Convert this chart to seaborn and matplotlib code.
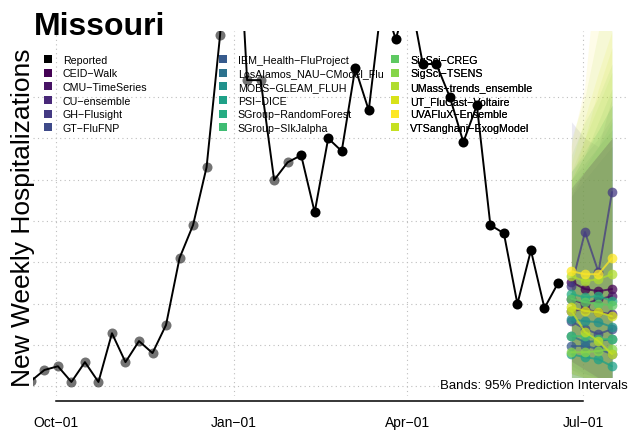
import pandas as pd
import seaborn as sns
import matplotlib.pyplot as plt
import matplotlib.dates as mdates
from matplotlib.lines import Line2D

# reported weekly hospitalizations (Missouri)
reported_start = "2022-09-18"
reported_values = [12, 39, 48, 10, 58, 10, 128, 58, 109, 80,
                   148, 310, 390, 530, 850, 1334, 741, 741, 499, 542,
                   559, 421, 600, 569, 770, 668, 942, 840, 956, 780,
                   780, 700, 591, 680, 390, 370, 199, 329, 189, 249]
n_grey = 20  # older points drawn faded

forecast_dates = ["2023-06-25", "2023-07-02", "2023-07-09", "2023-07-16"]
models = ["CEID\u2212Walk", "CMU\u2212TimeSeries", "CU\u2212ensemble", "GH\u2212Flusight",
          "GT\u2212FluFNP", "IEM_Health\u2212FluProject", "LosAlamos_NAU\u2212CModel_Flu",
          "MOBS\u2212GLEAM_FLUH", "PSI\u2212DICE", "SGroup\u2212RandomForest",
          "SGroup\u2212SIkJalpha", "SigSci\u2212CREG", "SigSci\u2212TSENS",
          "UMass\u2212trends_ensemble", "UT_FluCast\u2212Voltaire", "UVAFluX\u2212Ensemble",
          "VTSanghani\u2212ExogModel"]
model_colors = ["#440154", "#471365", "#482878", "#443A83", "#3E4A89", "#375B8D",
                "#2C728E", "#21918C", "#1FA188", "#25AC82", "#3FBC73", "#5EC962",
                "#86D549", "#B0DD2F", "#D8E219", "#FDE725", "#C5E021"]
forecast_median = [[252, 235, 230, 235], [210, 199, 210, 218], [182, 186, 179, 174],
                   [242, 373, 276, 470], [157, 138, 126, 138], [97, 97, 90, 77],
                   [121, 107, 109, 114], [162, 157, 155, 143], [77, 70, 65, 48],
                   [223, 215, 218, 206], [121, 121, 114, 114], [211, 203, 199, 196],
                   [82, 82, 85, 90], [266, 254, 259, 271], [191, 182, 179, 169],
                   [278, 271, 271, 310], [182, 131, 109, 77]]
forecast_lower = [[60, 40, 20, 10], [50, 30, 20, 10], [40, 20, 10, 5],
                  [-10, 0, 0, 0], [30, 20, 10, 5], [10, 5, 0, 0],
                  [20, 10, 5, 0], [30, 20, 10, 5], [5, 0, 0, 0],
                  [40, 30, 20, 10], [20, 10, 5, 0], [30, 20, 10, 5],
                  [5, 0, 0, 0], [30, 20, 10, 5], [20, 10, 5, 0],
                  [30, 20, 10, 5], [10, 5, 0, 0]]
forecast_upper = [[480, 520, 560, 600], [470, 520, 560, 600], [460, 520, 560, 600],
                  [640, 600, 580, 700], [500, 540, 580, 620], [460, 500, 540, 580],
                  [520, 560, 600, 650], [500, 560, 620, 680], [480, 530, 580, 640],
                  [520, 570, 620, 680], [500, 560, 640, 720], [560, 640, 700, 780],
                  [520, 600, 680, 760], [600, 700, 860, 1000], [540, 650, 760, 860],
                  [580, 720, 1050, 1300], [500, 600, 720, 820]]

tick_dates = ["2022-10-01", "2023-01-01", "2023-04-01", "2023-07-01"]
tick_labels = ["Oct\u221201", "Jan\u221201", "Apr\u221201", "Jul\u221201"]
grid_values = [0, 100, 200, 300, 400, 500, 600, 700]

sns.set_style("white")
plt.rcParams['font.family'] = ['Liberation Sans', 'DejaVu Sans']
plt.rcParams['text.color'] = 'black'
plt.rcParams['xtick.color'] = 'black'
plt.rcParams['axes.edgecolor'] = 'black'

rep = pd.DataFrame({"date": pd.date_range(reported_start, periods=len(reported_values), freq="7D"),
                    "value": reported_values})
rows = []
for m, med, lo, up in zip(models, forecast_median, forecast_lower, forecast_upper):
    for d, a, b, c in zip(forecast_dates, med, lo, up):
        rows.append({"model": m, "date": pd.Timestamp(d), "median": a, "lower": b, "upper": c})
fc = pd.DataFrame(rows)
palette = dict(zip(models, model_colors))

fig = plt.figure(figsize=(6.29, 4.35), dpi=100)
ax = fig.add_axes([33 / 629, 38 / 435, 596 / 629, 365 / 435])

# prediction bands (first model drawn last, gives the greyish overlap)
for m in models[1:] + models[:1]:
    sub = fc[fc.model == m]
    ax.fill_between(sub["date"], sub["lower"], sub["upper"], color=palette[m],
                    alpha=0.1, linewidth=0, zorder=1)

sns.lineplot(data=fc, x="date", y="median", hue="model", palette=palette, marker="o",
             markersize=7, markeredgewidth=0, linewidth=1.4, alpha=0.75,
             legend=False, ax=ax, zorder=3)

sns.lineplot(data=rep, x="date", y="value", color="black", linewidth=1.4, ax=ax, zorder=2)
sns.scatterplot(data=rep.iloc[:n_grey], x="date", y="value", color="black", alpha=0.55,
                s=52, linewidth=0, ax=ax, zorder=2)
sns.scatterplot(data=rep.iloc[n_grey:], x="date", y="value", color="black",
                s=52, linewidth=0, ax=ax, zorder=2)

oct1 = pd.Timestamp(tick_dates[0])
ax.set_xlim(oct1 - pd.Timedelta(days=11.9), oct1 + pd.Timedelta(days=296.8))
ax.set_ylim(-24, 860)

ax.set_yticks(grid_values)
ax.set_yticklabels([])
ax.tick_params(axis="y", length=0)
ax.set_xticks(pd.to_datetime(tick_dates))
ax.set_xticklabels(tick_labels, fontsize=11.5)
ax.tick_params(axis="x", length=2.3, width=1.1, pad=8, direction="out", colors="black")
ax.grid(True, linestyle=(0, (1, 3)), color="#BEBEBE", linewidth=0.8)
ax.set_xlabel("")
ax.set_ylabel("")
for s in ["top", "right", "left"]:
    ax.spines[s].set_visible(False)
ax.spines["bottom"].set_position(("outward", 3.6))
ax.spines["bottom"].set_linewidth(1.1)
ax.spines["bottom"].set_bounds(mdates.date2num(pd.Timestamp(tick_dates[0])),
                               mdates.date2num(pd.Timestamp(tick_dates[-1])))

# legend in three columns
labels = ["Reported"] + models
colors = ["black"] + model_colors
col_x = [43.7, 218.7, 391.2]
for i, x0 in enumerate(col_x):
    handles = [Line2D([0], [0], marker="s", linestyle="none", color=c, markersize=6,
                      markeredgewidth=0) for c in colors[i * 6:(i + 1) * 6]]
    leg = ax.legend(handles, labels[i * 6:(i + 1) * 6], loc="upper left",
                    bbox_to_anchor=(x0 / 629, 1 - 55.5 / 435), bbox_transform=fig.transFigure,
                    frameon=False, fontsize=7.7, borderpad=0, borderaxespad=0,
                    handlelength=0.8, handletextpad=1.0, labelspacing=0.35)
    for t in leg.get_texts():
        t.set_color("black")
    leg.set_zorder(1.5)
    ax.add_artist(leg)

fig.text(34 / 629, 1 - 35 / 435, "Missouri", fontsize=23, fontweight="bold",
         va="baseline", color="black")
fig.text(23 / 629, 1 - 218 / 435, "New Weekly Hospitalizations", fontsize=19,
         rotation=90, ha="center", va="center", color="black")
fig.text(628 / 629, 1 - 386 / 435, "Bands: 95% Prediction Intervals", fontsize=9.5,
         ha="right", va="center", color="black",
         bbox=dict(facecolor="white", edgecolor="none", pad=1))

fig.savefig("out.png", dpi=100)
